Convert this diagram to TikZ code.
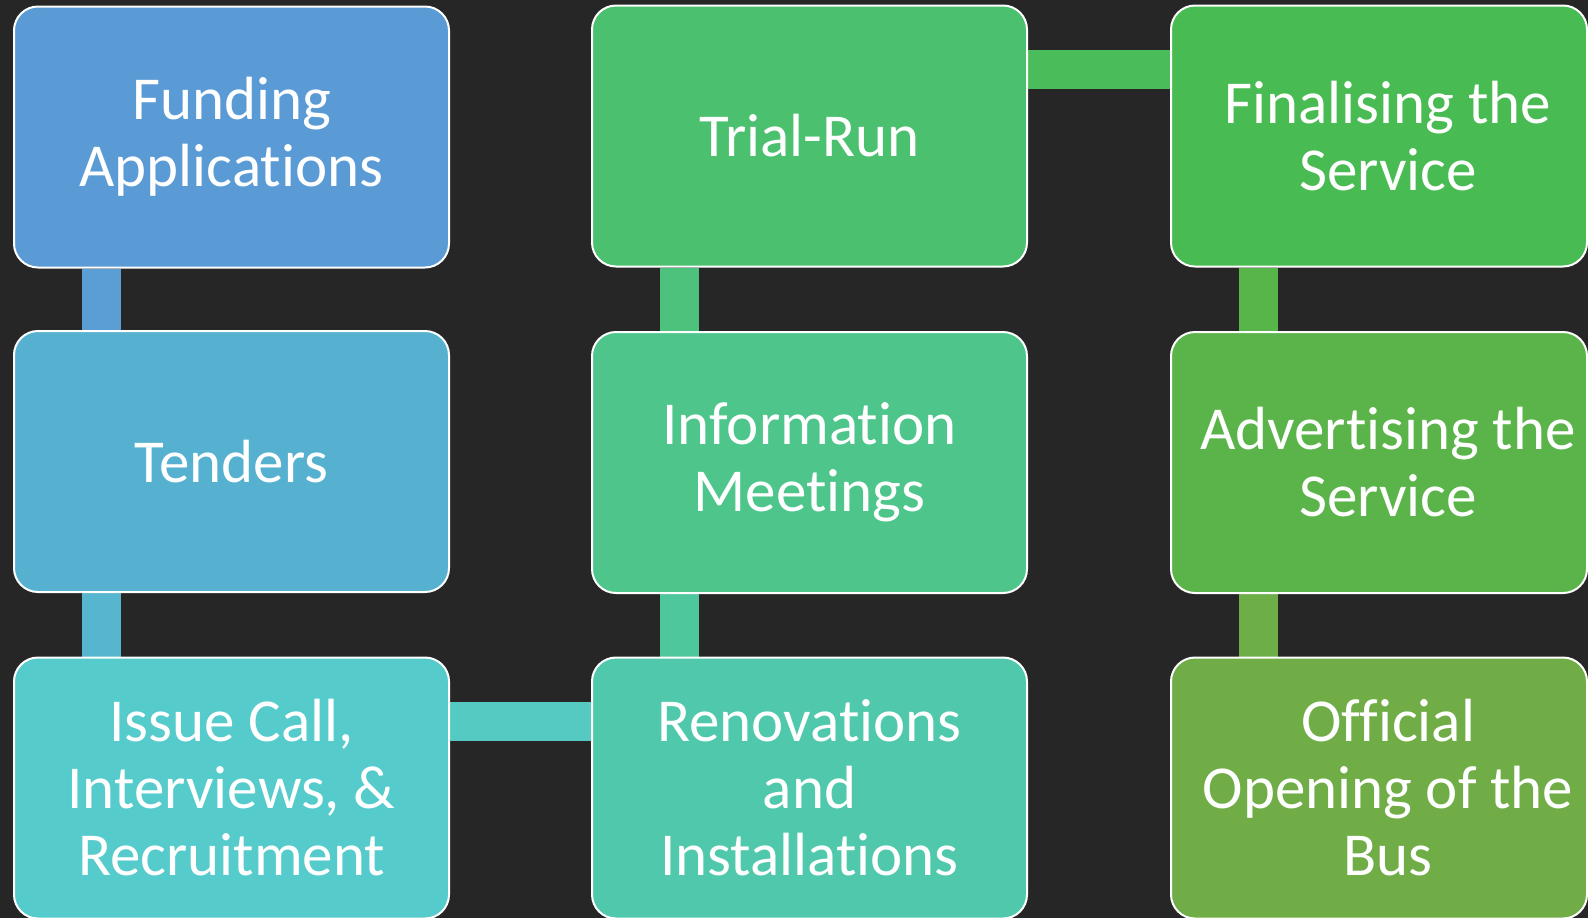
\documentclass[tikz,border=0pt]{standalone}
\usepackage{fontspec}
\setmainfont[Ligatures={NoCommon,NoContextual},Contextuals=NoAlternate]{Carlito}
\usetikzlibrary{calc,backgrounds}

\definecolor{bg}{HTML}{262626}
\definecolor{c1}{HTML}{5B9BD5}
\definecolor{c2}{HTML}{56B1D0}
\definecolor{c3}{HTML}{55CBCC}
\definecolor{c4}{HTML}{50C8AB}
\definecolor{c5}{HTML}{4EC58B}
\definecolor{c6}{HTML}{4BC06F}
\definecolor{c7}{HTML}{49BB53}
\definecolor{c8}{HTML}{5BB449}
\definecolor{c9}{HTML}{70AD47}
\definecolor{k1}{HTML}{5B9DD5}
\definecolor{k2}{HTML}{56B5CF}
\definecolor{k3}{HTML}{54CAC2}
\definecolor{k4}{HTML}{4FC79D}
\definecolor{k5}{HTML}{4CC27C}
\definecolor{k6}{HTML}{4ABC5A}
\definecolor{k7}{HTML}{58B54A}
\definecolor{k8}{HTML}{6DAE47}

\begin{document}
\begin{tikzpicture}[x=0.5pt,y=-0.5pt,
            box/.style={
              draw=white,
              line width=1pt,
              rounded corners=12pt,
              minimum height=130.5pt,
              inner sep=0pt
            },
            txt/.style={
              text=white,
              align=center,
              inner sep=0pt,
              font=\fontsize{30.5}{33.5}\selectfont
            },
            conn/.style={
              line width=19.5pt
            }
        ]
\useasboundingbox (0,0) rectangle (1588,918);

\foreach \n/\x/\y/\w/\s/\c/\t in {fund/231.5/137/217.5pt/0pt/c1/{Funding\\Applications},
    tend/231.5/461.5/217.5pt/0pt/c2/{Tenders},
    iss/231.5/788/217.5pt/0pt/c3/{Issue Call,\\Interviews, \&\\Recruitment},
    ren/809.5/788/217.5pt/0pt/c4/{Renovations\\and\\Installations},
    info/809.5/462.5/217.5pt/0pt/c5/{Information\\Meetings},
    trial/809.5/136/217.5pt/0pt/c6/{Trial-Run},
    fin/1379/136/208pt/4.5pt/c7/{Finalising the\\Service},
    adv/1379/462.5/208pt/4.5pt/c8/{Advertising the\\Service},
    off/1379/788/208pt/4.5pt/c9/{Official\\Opening of the\\Bus}}
    \node[box, fill=\c, minimum width=\w,
          label={[txt, xshift=\s]center:{\t}}] (\n) at (\x, \y) {};

\begin{scope}[on background layer]
\fill[bg] (0,0) rectangle (1588,918);
\foreach \a/\b/\c in {fund/tend/k1, tend/iss/k2, info/ren/k4, trial/info/k5, fin/adv/k7, adv/off/k8}
    \draw[conn, \c] ($(\a.south west)+(88.5,0)$) -- ($(\b.north west)+(88.5,0)$);
\draw[conn, k3] ($(iss.north east)+(0,64.5)$) -- ($(ren.north west)+(0,64.5)$);
\draw[conn, k6] ($(trial.north east)+(0,65)$) -- ($(fin.north west)+(0,65)$);
\end{scope}

\end{tikzpicture}
\end{document}
